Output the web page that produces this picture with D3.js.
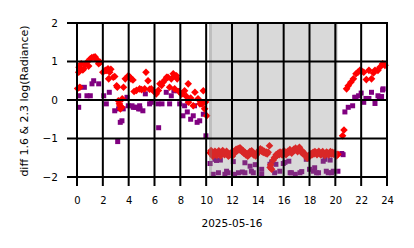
<!doctype html>
<html lang="en">
<head>
    <meta charset="utf-8">
    <script src="https://d3js.org/d3.v7.min.js"></script>
    <style>
        body { margin: 0; background: #fff; }
        text { font-family: "DejaVu Sans", sans-serif; fill: #000; }
    </style>
</head>
<body>
<script>
    var width = 414, height = 248;
    var margin = {left: 77, right: 27, top: 23, bottom: 71};

    // axis ticks
    var hourTicks = [0, 2, 4, 6, 8, 10, 12, 14, 16, 18, 20, 22, 24];
    var valueTicks = [-2, -1, 0, 1, 2];

    // shaded night period (hours), edges overlap a bit
    var nightSpans = [[10.22, 20.16], [10.22, 10.45], [19.95, 20.16]];

    // red series [hour, value]
    var redDay = [[0.05,0.30],[0.13,0.72],[0.16,0.85],[0.22,0.33],[0.33,0.94],[0.45,0.78],[0.52,0.81],[0.65,0.92],
        [0.77,0.98],[0.9,0.88],[1.03,1.07],[1.15,1.10],[1.29,1.11],[1.4,1.12],[1.47,1.07],[1.58,1.03],[1.68,0.94],
        [1.8,0.98],[2.0,0.72],[2.19,0.77],[2.3,0.77],[2.4,0.81],[2.45,0.55],[2.53,0.72],[2.62,0.80],[2.81,0.59],
        [2.92,0.61],[3.07,0.37],[3.12,0.33],[3.2,-0.02],[3.28,-0.10],[3.36,-0.23],[3.33,-0.15],[3.46,-0.19],
        [3.5,0.03],[3.6,0.33],[3.74,0.55],[3.97,0.63],[4.08,0.60],[4.18,0.55],[4.33,0.52],[4.42,0.22],[4.6,0.25],
        [4.85,0.29],[5.0,0.27],[5.24,0.29],[5.34,0.72],[5.5,0.50],[5.62,0.28],[5.75,0.29],[5.9,0.24],[6.14,0.16],
        [6.3,0.25],[6.42,0.42],[6.55,0.38],[6.66,0.46],[6.8,0.52],[6.94,0.59],[7.04,0.59],[7.17,0.33],[7.3,0.55],
        [7.45,0.68],[7.58,0.63],[7.7,0.63],[7.76,0.55],[7.56,0.29],[7.9,0.22],[8.1,0.15],[8.33,0.24],[8.45,0.10],
        [8.61,0.42],[8.63,-0.06],[8.8,0.05],[9.0,-0.15],[9.13,0.20],[9.37,0.03],[9.52,-0.10],[9.67,-0.10],
        [9.78,0.24],[9.88,-0.23],[9.95,-0.05],[10.04,-0.41]];
    var redNight = [[10.3,-1.37],[10.38,-1.31],[10.45,-1.42],[10.52,-1.46],[10.6,-1.40],[10.68,-1.33],[10.75,-1.36],
        [10.82,-1.44],[10.9,-1.38],[10.98,-1.32],[11.05,-1.41],[11.12,-1.45],[11.2,-1.38],[11.28,-1.31],[11.35,-1.35],
        [11.42,-1.42],[11.5,-1.37],[11.58,-1.33],[11.65,-1.40],[11.72,-1.46],[11.8,-1.43],[11.88,-1.38],[11.95,-1.42],
        [12.02,-1.46],[12.1,-1.40],[12.18,-1.33],[12.25,-1.36],[12.32,-1.28],[12.4,-1.32],[12.48,-1.26],[12.55,-1.30],
        [12.62,-1.24],[12.7,-1.28],[12.78,-1.34],[12.85,-1.31],[12.92,-1.38],[13.0,-1.36],[13.08,-1.43],[13.15,-1.40],
        [13.22,-1.46],[13.3,-1.42],[13.38,-1.34],[13.45,-1.38],[13.52,-1.32],[13.6,-1.36],[13.68,-1.43],[13.75,-1.39],
        [13.82,-1.45],[13.9,-1.42],[13.98,-1.37],[14.05,-1.34],[14.12,-1.30],[14.2,-1.27],[14.28,-1.33],[14.35,-1.30],
        [14.42,-1.36],[14.5,-1.33],[14.58,-1.38],[14.65,-1.35],[14.72,-1.40],[14.8,-1.36],[14.9,-1.19],[14.95,-1.75],
        [15.0,-1.68],[15.07,-1.80],[15.2,-1.56],[15.28,-1.50],[15.35,-1.48],[15.42,-1.42],[15.5,-1.44],[15.58,-1.38],
        [15.65,-1.42],[15.72,-1.35],[15.8,-1.39],[15.88,-1.43],[15.95,-1.37],[16.02,-1.32],[16.1,-1.36],[16.18,-1.42],
        [16.25,-1.38],[16.32,-1.33],[16.4,-1.36],[16.48,-1.29],[16.55,-1.34],[16.62,-1.38],[16.7,-1.33],[16.78,-1.28],
        [16.85,-1.31],[16.92,-1.25],[17.0,-1.30],[17.08,-1.34],[17.15,-1.27],[17.22,-1.23],[17.3,-1.29],[17.38,-1.36],
        [17.45,-1.33],[17.52,-1.41],[17.6,-1.38],[17.68,-1.43],[17.75,-1.45],[17.82,-1.51],[17.9,-1.49],[17.98,-1.43],
        [18.05,-1.45],[18.12,-1.39],[18.2,-1.42],[18.28,-1.36],[18.35,-1.40],[18.42,-1.34],[18.5,-1.37],[18.58,-1.42],
        [18.65,-1.37],[18.72,-1.33],[18.8,-1.39],[18.88,-1.43],[18.95,-1.38],[19.02,-1.34],[19.1,-1.39],[19.18,-1.44],
        [19.25,-1.40],[19.32,-1.35],[19.4,-1.38],[19.48,-1.43],[19.55,-1.39],[19.62,-1.34],[19.7,-1.40],[19.78,-1.36],
        [19.85,-1.41],[19.92,-1.37],[20.0,-1.40],[20.1,-1.45],[20.2,-1.41]];
    var redEve = [[20.56,-0.93],[20.67,-0.78],[20.87,0.29],[21.0,0.37],[21.2,0.46],[21.4,0.55],[21.6,0.68],
        [21.75,0.72],[21.9,0.77],[22.05,0.75],[22.2,0.72],[22.4,0.53],[22.6,0.77],[22.8,0.55],[22.95,0.70],
        [23.07,0.77],[23.3,0.77],[23.45,0.85],[23.66,0.94],[23.84,0.90]];

    // purple series [hour, value]
    var purpleDay = [[0.13,0.11],[0.13,-0.19],[0.2,0.33],[0.57,0.33],[0.77,0.11],[1.03,0.11],[1.16,0.42],[1.29,0.50],
        [1.68,0.42],[2.07,0.11],[2.27,-0.10],[2.5,0.20],[2.92,-0.28],[3.15,-1.08],[3.22,-0.23],[3.35,-0.58],
        [3.48,-0.54],[3.58,-0.23],[3.87,0.07],[3.97,-0.15],[4.26,-0.15],[4.36,-0.19],[4.5,-0.19],[4.62,-0.19],
        [4.77,-0.23],[4.88,-0.23],[4.85,-0.15],[5.1,-0.28],[5.29,0.16],[5.62,-0.10],[5.75,-0.06],[6.27,-0.10],
        [6.32,-0.72],[6.58,-0.10],[6.91,0.20],[7.17,-0.10],[7.3,0.11],[7.5,0.24],[7.82,0.24],[7.95,-0.10],
        [8.2,-0.41],[8.33,-0.15],[8.54,-0.31],[8.6,-0.02],[8.8,-0.50],[9.0,-0.41],[9.1,-0.15],[9.3,-0.58],
        [9.5,-0.54],[9.62,-0.10],[9.78,-0.37],[9.98,-0.93]];
    var purpleNight = [[10.3,-1.65],[10.55,-1.93],[10.68,-1.54],[10.8,-1.57],[10.95,-1.89],[11.1,-1.56],[11.45,-1.93],
        [11.58,-1.85],[11.7,-1.89],[12.1,-1.60],[12.2,-1.93],[12.5,-1.89],[12.8,-1.87],[13.0,-1.63],[13.0,-1.89],
        [13.4,-1.72],[13.5,-1.85],[13.65,-1.89],[13.8,-1.68],[14.3,-1.80],[14.3,-1.93],[14.94,-1.67],[15.07,-1.61],
        [15.3,-1.89],[15.4,-1.67],[15.7,-1.85],[15.97,-1.65],[16.1,-1.62],[16.4,-1.59],[16.5,-1.89],[16.6,-1.89],
        [16.9,-1.93],[17.26,-1.89],[17.4,-1.86],[17.75,-1.54],[18.0,-1.80],[18.3,-1.85],[18.4,-1.76],[18.55,-1.89],
        [18.7,-1.89],[19.06,-1.59],[19.2,-1.54],[19.3,-1.85],[19.45,-1.89],[19.6,-1.56],[19.7,-1.89],[19.84,-1.85],
        [20.2,-1.85]];
    var purpleEve = [[20.5,-1.39],[20.6,-1.42],[20.74,-0.31],[21.0,-0.19],[21.34,-0.15],[21.5,0.07],[21.6,0.07],
        [21.8,0.11],[22.0,0.18],[22.2,-0.06],[22.37,0.04],[22.6,0.04],[22.8,0.20],[23.07,-0.09],[23.3,0.11],
        [23.4,0.07],[23.58,0.09],[23.66,0.26],[23.7,0.29]];

    var redPoints = redDay.concat(redNight, redEve);
    var purplePoints = purpleDay.concat(purpleNight, purpleEve);

    var svg = d3.select('body').append('svg').attr('width', width).attr('height', height);

    var x = d3.scaleLinear().domain([0, 24]).range([margin.left, width - margin.right]);
    var y = d3.scaleLinear().domain([-2, 2]).range([height - margin.bottom, margin.top]);

    // purple squares
    var s = 2.5;
    svg.append('g').selectAll('rect')
        .data(purplePoints)
        .join('rect')
        .attr('x', function(d) { return x(d[0]) - s })
        .attr('y', function(d) { return y(d[1]) - s })
        .attr('width', 2 * s).attr('height', 2 * s)
        .attr('fill', 'purple');

    // red diamonds
    var r = 3.8;
    svg.append('g').selectAll('path')
        .data(redPoints)
        .join('path')
        .attr('d', function(d) {
            var cx = x(d[0]), cy = y(d[1]);
            return 'M' + cx + ',' + (cy - r) + 'L' + (cx + r) + ',' + cy + 'L' + cx + ',' + (cy + r) + 'L' + (cx - r) + ',' + cy + 'Z';
        })
        .attr('fill', 'red');

    // night shading on top of the points
    svg.append('g').selectAll('rect')
        .data(nightSpans)
        .join('rect')
        .attr('x', function(d) { return x(d[0]) })
        .attr('width', function(d) { return x(d[1]) - x(d[0]) })
        .attr('y', y(2)).attr('height', y(-2) - y(2))
        .attr('fill', '#808080').attr('fill-opacity', 0.3);

    // grid lines (they also make the outward ticks)
    var grid = svg.append('g').attr('stroke', '#000').attr('stroke-width', 2);
    grid.selectAll('line.v')
        .data(hourTicks)
        .join('line').attr('class', 'v')
        .attr('x1', function(d) { return x(d) }).attr('x2', function(d) { return x(d) })
        .attr('y1', y(2) - 1).attr('y2', y(-2) + 9);
    grid.selectAll('line.h')
        .data(valueTicks)
        .join('line').attr('class', 'h')
        .attr('x1', x(0) - 10).attr('x2', x(24) + 1)
        .attr('y1', function(d) { return y(d) }).attr('y2', function(d) { return y(d) });

    // tick labels through the axis generators, no lines
    var xAxis = svg.append('g')
        .attr('transform', 'translate(0,' + y(-2) + ')')
        .call(d3.axisBottom(x).tickValues(hourTicks).tickFormat(d3.format('d'))
            .tickSize(9).tickPadding(11));
    var yAxis = svg.append('g')
        .attr('transform', 'translate(' + x(0) + ',0)')
        .call(d3.axisLeft(y).tickValues(valueTicks).tickFormat(d3.format('d'))
            .tickSize(10).tickPadding(9));

    svg.selectAll('.domain').remove();
    svg.selectAll('.tick line').remove();
    xAxis.selectAll('text').style('font-size', '10px');
    yAxis.selectAll('text').style('font-size', '10.5px');

    // labels
    svg.append('text')
        .attr('x', (x(0) + x(24)) / 2).attr('y', 226.5)
        .attr('text-anchor', 'middle')
        .style('font-size', '10.5px')
        .text('2025-05-16');

    svg.append('text')
        .attr('transform', 'translate(28,' + ((y(2) + y(-2)) / 2 + 1) + ') rotate(-90)')
        .attr('text-anchor', 'middle')
        .style('font-size', '11px')
        .text('diff 1.6 & 2.3  log(Radiance)');
</script>
</body>
</html>
